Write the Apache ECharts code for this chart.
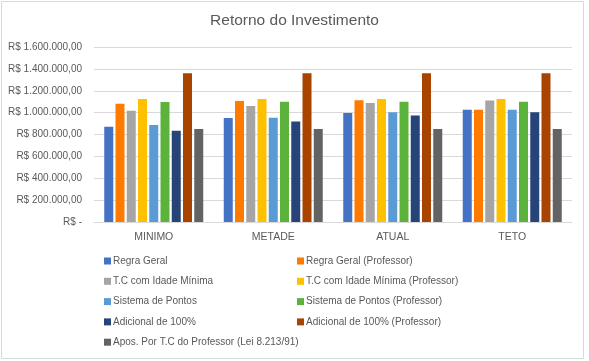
<!DOCTYPE html>
<html><head><meta charset="utf-8">
<script src="https://cdn.jsdelivr.net/npm/echarts@6/dist/echarts.min.js"></script>
<style>html,body{margin:0;padding:0;background:#fff}#c{width:589px;height:361px}</style>
</head><body><div id="c"></div>
<script>
const categories = ['MINIMO','METADE','ATUAL','TETO'];
const seriesNames = ['Regra Geral','Regra Geral (Professor)','T.C com Idade Mínima','T.C com Idade Mínima (Professor)','Sistema de Pontos','Sistema de Pontos (Professor)','Adicional de 100%','Adicional de 100% (Professor)','Apos. Por T.C do Professor (Lei 8.213/91)'];
const regraGeral = [870000, 951000, 997000, 1027000];
const regraGeralProf = [1082000, 1107000, 1113000, 1027000];
const tcIdadeMin = [1018000, 1061000, 1088000, 1110000];
const tcIdadeMinProf = [1125000, 1125000, 1125000, 1125000];
const sistemaPontos = [887000, 954000, 1003000, 1027000];
const sistemaPontosProf = [1098000, 1100000, 1100000, 1100000];
const adicional = [834000, 918000, 973000, 1003000];
const adicionalProf = [1360000, 1360000, 1360000, 1360000];
const aposProf = [850000, 850000, 850000, 850000];
const colors = ['#4472C4','#FF7B00','#A5A5A5','#FFC000','#5B9BD5','#5BB33B','#264478','#A94300','#636363'];
const allData = [regraGeral, regraGeralProf, tcIdadeMin, tcIdadeMinProf, sistemaPontos, sistemaPontosProf, adicional, adicionalProf, aposProf];

function fmt(v){
  if (v === 0) return 'R$ -';
  const s = Math.round(v).toString().replace(/\B(?=(\d{3})+(?!\d))/g,'.');
  return 'R$ ' + s + ',00';
}
const font = 'Liberation Sans, Arial, sans-serif';
const txt = '#595959';
const chart = echarts.init(document.getElementById('c'));
const legendCommon = {orient:'vertical', itemWidth:7, itemHeight:7, itemGap:8.3, icon:'rect', height:120,
  textStyle:{color:txt, fontSize:10, fontFamily:font, padding:[0,0,0,-3], height:12, lineHeight:12}, top:255, padding:0};
chart.setOption({
  animation:false,
  color: colors,
  graphic:[{type:'rect', shape:{x:1.5,y:1.5,width:582,height:357}, style:{fill:'none', stroke:'#D9D9D9', lineWidth:1}, silent:true}],
  title:{text:'Retorno do Investimento', left:'center', top:13, padding:0, textStyle:{color:txt, fontSize:15.5, fontWeight:'normal', fontFamily:font}},
  grid:{left:94, right:17, top:47, bottom:139},
  legend:[
    Object.assign({}, legendCommon, {left:104, data:seriesNames.filter((n,i)=>i%2===0)}),
    Object.assign({}, legendCommon, {left:297, data:seriesNames.filter((n,i)=>i%2===1)})
  ],
  xAxis:{type:'category', data:categories, axisTick:{show:false},
    axisLine:{lineStyle:{color:'#D9D9D9'}},
    axisLabel:{color:txt, fontSize:10.5, fontFamily:font, margin:10}},
  yAxis:{type:'value', min:0, max:1600000, interval:200000,
    axisLine:{show:false}, axisTick:{show:false},
    splitLine:{lineStyle:{color:'#D9D9D9'}},
    axisLabel:{color:txt, fontSize:10, fontFamily:font, margin:12, formatter:fmt}},
  series: seriesNames.map((n,i)=>({name:n, type:'bar', data:allData[i], barWidth:9, barGap:'25%',
    itemStyle:{color:colors[i]}}))
});
</script></body></html>
